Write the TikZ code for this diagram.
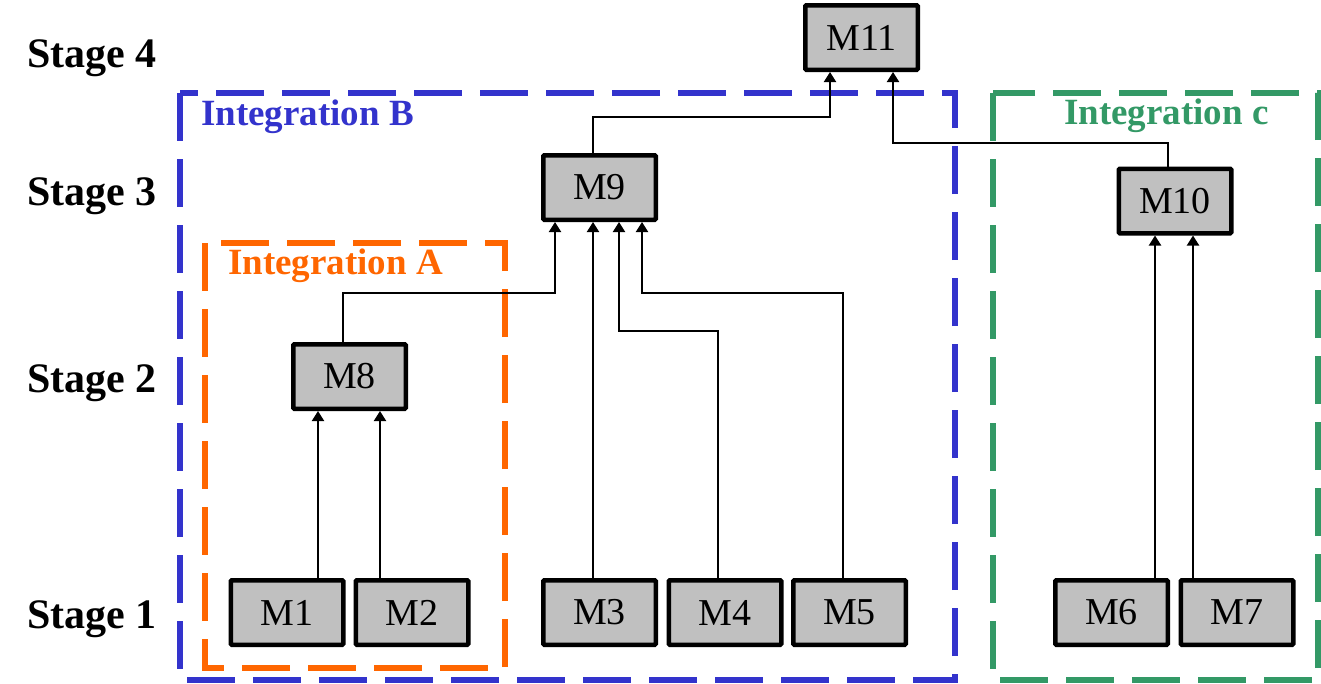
\documentclass[tikz,border=0pt]{standalone}
\usepackage{fontspec}
\setmainfont{Liberation Serif}
\usetikzlibrary{arrows.meta}
\definecolor{intblue}{HTML}{3333CC}
\definecolor{intorange}{HTML}{FF6600}
\definecolor{intgreen}{HTML}{339966}
\definecolor{boxgray}{HTML}{C0C0C0}
\tikzset{
  mbox/.style={draw=black, fill=boxgray, line width=4.5pt, rounded corners=1pt,
    minimum width=112.5pt, minimum height=64.5pt, inner sep=0pt,
    font=\fontsize{38}{40}\selectfont},
  stagelbl/.style={anchor=base west, inner sep=0pt, font=\fontsize{42}{46}\selectfont\bfseries},
  intlbl/.style={anchor=base west, inner sep=0pt, font=\fontsize{37}{40}\selectfont\bfseries},
  grp/.style={line width=5.5pt, dash pattern=on 48pt off 18pt},
  conn/.style={line width=2pt, -{Triangle[width=12pt,length=10pt]}}
}
\begin{document}
\begin{tikzpicture}[x=1pt,y=-1pt]
\useasboundingbox (0,0) rectangle (1321,683);
% group boxes
\draw[grp, intblue] (180,93) rectangle (955,680);
\draw[grp, intgreen] (993,93) rectangle (1318,680);
\draw[grp, intorange] (205,243) rectangle (505,668);
% labels
\node[stagelbl] (s4) at (27,67) {Stage 4};
\node[stagelbl] (s3) at (27,205) {Stage 3};
\node[stagelbl] (s2) at (27,392) {Stage 2};
\node[stagelbl] (s1) at (27,628) {Stage 1};
\node[intlbl, text=intblue] (lb) at (201,125) {Integration B};
\node[intlbl, text=intorange] (la) at (228,274) {Integration A};
\node[intlbl, text=intgreen] (lc) at (1064,124) {Integration c};
% module boxes
\node[mbox] (M1) at (287,612.5) {M1};
\node[mbox] (M2) at (412,612.5) {M2};
\node[mbox] (M3) at (599.5,612.5) {M3};
\node[mbox] (M4) at (725,612.5) {M4};
\node[mbox] (M5) at (849.5,612.5) {M5};
\node[mbox] (M6) at (1111.5,612.5) {M6};
\node[mbox] (M7) at (1237,612.5) {M7};
\node[mbox] (M8) at (349.5,376.5) {M8};
\node[mbox] (M9) at (599.5,187.5) {M9};
\node[mbox] (M10) at (1175,201) {M10};
\node[mbox] (M11) at (861.5,37.5) {M11};
% x positions of connector lines
\coordinate (xa) at (318,0);
\coordinate (xb) at (380,0);
\coordinate (xc) at (343,0);
\coordinate (xd) at (555,0);
\coordinate (xe) at (593,0);
\coordinate (xf) at (718,0);
\coordinate (xg) at (619,0);
\coordinate (xh) at (843,0);
\coordinate (xi) at (642,0);
\coordinate (xj) at (830,0);
\coordinate (xk) at (893,0);
\coordinate (xl) at (1168,0);
\coordinate (xm) at (1155,0);
\coordinate (xn) at (1193,0);
% y positions of horizontal runs
\coordinate (ya) at (0,293);
\coordinate (yb) at (0,331);
\coordinate (yc) at (0,117);
\coordinate (yd) at (0,143);
% connectors
\draw[conn] (M1.north -| xa) -- (M8.south -| xa);
\draw[conn] (M2.north -| xb) -- (M8.south -| xb);
\draw[conn] (M8.north -| xc) -- (xc |- ya) -- (xd |- ya) -- (M9.south -| xd);
\draw[conn] (M3.north -| xe) -- (M9.south -| xe);
\draw[conn] (M4.north -| xf) -- (xf |- yb) -- (xg |- yb) -- (M9.south -| xg);
\draw[conn] (M5.north -| xh) -- (xh |- ya) -- (xi |- ya) -- (M9.south -| xi);
\draw[conn] (M9.north -| xe) -- (xe |- yc) -- (xj |- yc) -- (M11.south -| xj);
\draw[conn] (M10.north -| xl) -- (xl |- yd) -- (xk |- yd) -- (M11.south -| xk);
\draw[conn] (M6.north -| xm) -- (M10.south -| xm);
\draw[conn] (M7.north -| xn) -- (M10.south -| xn);
\end{tikzpicture}
\end{document}
